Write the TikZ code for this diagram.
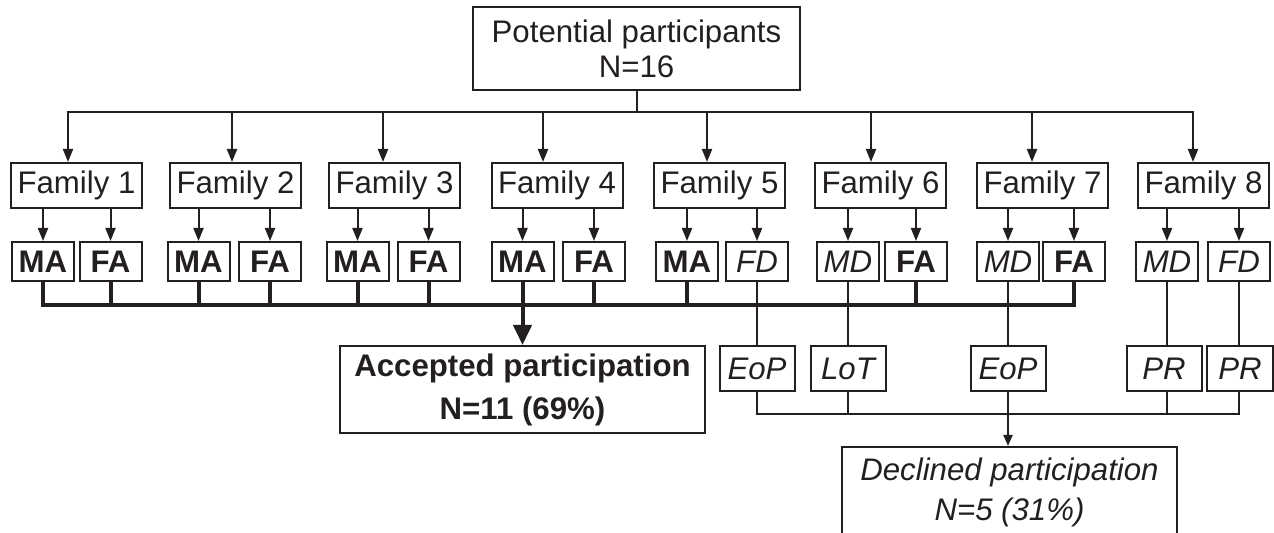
\documentclass[tikz,border=0pt]{standalone}
\usepackage{fontspec}
\setmainfont{Liberation Sans}
\usetikzlibrary{arrows.meta}
\definecolor{ink}{RGB}{35,31,32}
\begin{document}
\begin{tikzpicture}[x=0.5pt,y=-0.5pt,
  box/.style={draw=ink, line width=1pt, inner sep=0pt, text=ink, font=\fontsize{15.6}{18}\selectfont},
  fam/.style={box, minimum width=65.5pt, minimum height=22.5pt},
  sm/.style={box, minimum width=31pt, minimum height=19.5pt},
  acc/.style={sm, font=\fontsize{15.6}{18}\selectfont\bfseries},
  dec/.style={sm, font=\fontsize{15.6}{18}\selectfont\itshape},
  why/.style={box, minimum width=37.5pt, minimum height=22.5pt, font=\fontsize{15.6}{18}\selectfont\itshape},
  thin/.style={draw=ink, line width=1pt},
  thick/.style={draw=ink, line width=2pt},
  arr/.style={thin, -{Triangle[length=6.5pt,width=5pt]}},
  bigarr/.style={thick, -{Triangle[length=10pt,width=9pt]}}
]
\useasboundingbox (0,0) rectangle (1274,533);
\clip (0,0) rectangle (1274,533);

% top box
\node[box, minimum width=163.5pt, minimum height=41.5pt, align=center,
      font=\fontsize{15.6}{17.5}\selectfont] (top) at (636.5,48.5) {Potential participants\\N=16};

% families
\node[fam] (F1) at (76.5,185.5) {Family 1};
\node[fam] (F2) at (235.5,185.5) {Family 2};
\node[fam] (F3) at (394.5,185.5) {Family 3};
\node[fam] (F4) at (557,185.5) {Family 4};
\node[fam] (F5) at (719.5,185.5) {Family 5};
\node[fam] (F6) at (880.5,185.5) {Family 6};
\node[fam] (F7) at (1042.5,185.5) {Family 7};
\node[fam] (F8) at (1203.5,185.5) {Family 8};

% members
\node[acc] (M1) at (43,261.5) {MA};
\node[acc] (W1) at (110.5,261.5) {FA};
\node[acc] (M2) at (198.5,261.5) {MA};
\node[acc] (W2) at (270,261.5) {FA};
\node[acc] (M3) at (357.5,261.5) {MA};
\node[acc] (W3) at (428.5,261.5) {FA};
\node[acc] (M4) at (522.5,261.5) {MA};
\node[acc] (W4) at (594,261.5) {FA};
\node[acc] (M5) at (687,261.5) {MA};
\node[dec] (W5) at (757,261.5) {FD};
\node[dec] (M6) at (848,261.5) {MD};
\node[acc] (W6) at (916,261.5) {FA};
\node[dec] (M7) at (1008,261.5) {MD};
\node[acc] (W7) at (1074,261.5) {FA};
\node[dec] (M8) at (1167,261.5) {MD};
\node[dec] (W8) at (1239,261.5) {FD};

% outcome boxes
\node[box, minimum width=182.5pt, minimum height=43.5pt, align=center,
      font=\fontsize{15.6}{21.5}\selectfont\bfseries] (accbox) at (522.5,389.5) {Accepted participation\\N=11 (69\%)};
\node[why] (R1) at (757,368.5) {EoP};
\node[why] (R2) at (848,368.5) {LoT};
\node[why] (R3) at (1008,368.5) {EoP};
\node[why] (R4) at (1164,368.5) {PR};
\node[why, minimum width=33pt] (R5) at (1240,368.5) {PR};
\node[box, minimum width=167.5pt, minimum height=45pt, align=center,
      font=\fontsize{15.6}{20}\selectfont\itshape] (decbox) at (1009.5,492) {Declined participation\\N=5 (31\%)};

% top distribution bar
\coordinate (t1) at (68,112);
\coordinate (t2) at (232,112);
\coordinate (t3) at (383,112);
\coordinate (t4) at (543,112);
\coordinate (t5) at (707,112);
\coordinate (t6) at (871,112);
\coordinate (t7) at (1032,112);
\coordinate (t8) at (1193,112);
\draw[thin] (top.south) -- (top.south |- t1);
\draw[arr] (top.south |- t1) -- (t1) -- (t1 |- F1.north);
\draw[arr] (top.south |- t8) -- (t8) -- (t8 |- F8.north);
\draw[arr] (t2) -- (t2 |- F2.north);
\draw[arr] (t3) -- (t3 |- F3.north);
\draw[arr] (t4) -- (t4 |- F4.north);
\draw[arr] (t5) -- (t5 |- F5.north);
\draw[arr] (t6) -- (t6 |- F6.north);
\draw[arr] (t7) -- (t7 |- F7.north);

% family -> members
\foreach \i in {1,...,8}{
  \draw[arr] (M\i |- F\i.south) -- (M\i.north);
  \draw[arr] (W\i |- F\i.south) -- (W\i.north);
}

% accepted bar
\coordinate (ab) at (0,305);
\draw[thick] (M1.south) -- (M1 |- ab) -- (W7 |- ab) -- (W7.south);
\foreach \n in {W1,M2,W2,M3,W3,M4,W4,M5,W6}{
  \draw[thick] (\n.south) -- (\n |- ab);
}
\draw[bigarr] (M4 |- ab) -- (M4 |- accbox.north);

% declined paths
\draw[thin] (W5.south) -- (W5 |- R1.north);
\draw[thin] (M6.south) -- (M6 |- R2.north);
\draw[thin] (M7.south) -- (M7 |- R3.north);
\draw[thin] (M8.south) -- (M8 |- R4.north);
\draw[thin] (W8.south) -- (W8 |- R5.north);

\coordinate (db) at (0,414);
\draw[thin] (R1.south) -- (R1 |- db) -- (W8 |- db) -- (W8 |- R5.south);
\draw[thin] (R2.south) -- (R2 |- db);
\draw[thin] (M8 |- R4.south) -- (M8 |- db);
\draw[arr, -{Triangle[length=5.5pt,width=4.5pt]}] (R3.south) -- (R3 |- decbox.north);
\end{tikzpicture}
\end{document}
